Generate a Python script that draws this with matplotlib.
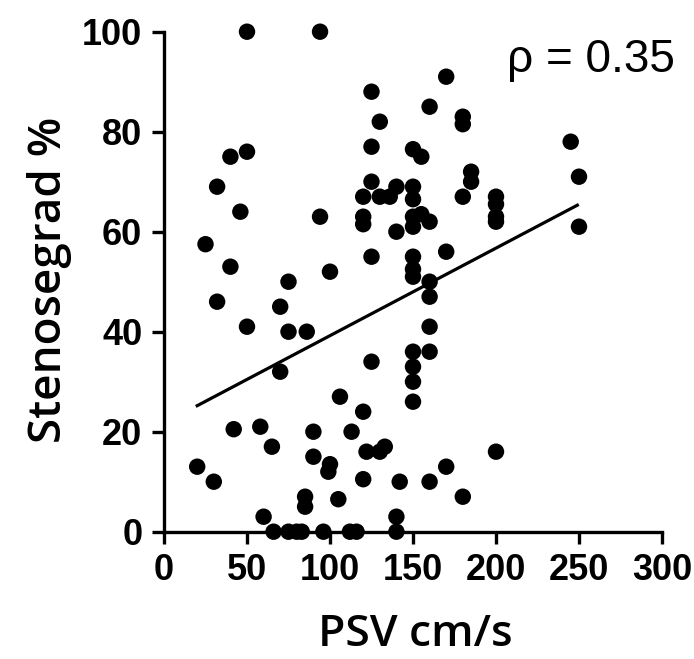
import matplotlib
matplotlib.use('Agg')
import matplotlib.pyplot as plt

psv = [50, 94, 50, 40, 32, 46, 94, 25, 40, 100, 75,
       170, 125, 160, 180, 180, 130, 125, 150, 155, 185, 185,
       125, 140, 120, 130, 136, 150, 150, 180, 200, 200, 200, 200,
       120, 120, 150, 155, 160, 150, 140, 125, 150, 170, 150, 150,
       245, 250, 250,
       32, 70, 50, 75, 86, 70, 106, 42, 58, 90, 65, 90, 100, 99,
       20, 30, 85, 85, 105, 60, 66, 75, 80, 83, 96,
       160, 160, 160, 160, 150, 150, 150, 150, 125, 120, 113,
       122, 130, 133, 120, 142, 160, 170, 180, 200, 140, 140, 112, 116]
stenose = [100, 100, 76, 75, 69, 64, 63, 57.5, 53, 52, 50,
           91, 88, 85, 83, 81.5, 82, 77, 76.5, 75, 72, 70,
           70, 69, 67, 67, 67, 69, 66.5, 67, 67, 65.5, 63, 62,
           63, 61.5, 63, 63.5, 62, 61, 60, 55, 55, 56, 52.5, 51,
           78, 71, 61,
           46, 45, 41, 40, 40, 32, 27, 20.5, 21, 20, 17, 15, 13.5, 12,
           13, 10, 7, 5, 6.5, 3, 0, 0, 0, 0, 0,
           50, 47, 41, 36, 36, 33, 30, 26, 34, 24, 20,
           16, 16, 17, 10.5, 10, 10, 13, 7, 16, 3, 0, 0, 0]

# Regressionsgerade
line_x = [20, 249]
line_y = [25.2, 65.3]
rho_text = 'ρ = 0.35'

fig = plt.figure(figsize=(6.94, 6.59), dpi=100)
ax = fig.add_axes([164 / 694, 1 - 531.7 / 659, 498 / 694, 500 / 659])

ax.scatter(psv, stenose, s=140, color='black', edgecolors='none', zorder=3, clip_on=False)
ax.plot(line_x, line_y, color='black', linewidth=2.3, zorder=2)

ax.set_xlim(0, 300)
ax.set_ylim(0, 100)
ax.set_xticks([0, 50, 100, 150, 200, 250, 300])
ax.set_yticks([0, 20, 40, 60, 80, 100])

for side in ['top', 'right']:
    ax.spines[side].set_visible(False)
for side in ['left', 'bottom']:
    ax.spines[side].set_linewidth(2.4)

ax.tick_params(width=2.4, length=8.6, pad=7)
for lab in ax.get_xticklabels() + ax.get_yticklabels():
    lab.set_fontfamily('Liberation Sans')
    lab.set_fontweight('bold')
    lab.set_fontsize(26)

ax.set_xlabel('PSV cm/s', fontfamily='Open Sans', fontweight='semibold', fontsize=32, va='baseline')
ax.xaxis.set_label_coords(0.504, -0.228)
ax.set_ylabel('Stenosegrad %', fontfamily='Open Sans', fontweight='semibold', fontsize=33, va='center')
ax.yaxis.set_label_coords(-0.23, 0.503)

ax.text(0.689, 0.92, rho_text, transform=ax.transAxes, fontfamily='Liberation Sans',
        fontsize=33, va='baseline', ha='left')

fig.savefig('out.png', dpi=100)
